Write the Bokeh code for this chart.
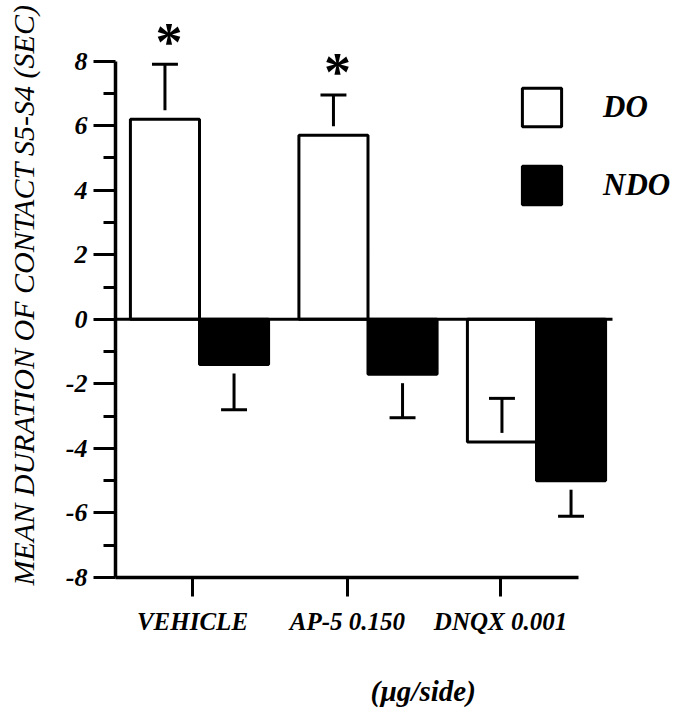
from bokeh.plotting import figure
from bokeh.models import Range1d, FixedTicker, Legend, LegendItem, Title
from bokeh.core.properties import value
from bokeh.embed import file_html
from bokeh.resources import INLINE

# ---- data ----
categories = ["VEHICLE", "AP-5 0.150", "DNQX 0.001"]
do_mean = [6.2, 5.7, -3.8]
do_sem = [1.7, 1.25, 1.35]
ndo_mean = [-1.4, -1.7, -5.0]
ndo_sem = [1.4, 1.35, 1.1]
do_significant = [True, True, False]
y_ticks = [-8, -6, -4, -2, 0, 2, 4, 6, 8]
y_minor = [-7, -5, -3, -1, 1, 3, 5, 7]

# ---- layout constants ----
FONT = "Liberation Serif"
half = 0.205
bw = 0.41
gap = 0.28
cap = 0.077
label_x = [0.9585, 1.8783, 2.7864]
X0, X1 = 0.5015, 3.819
ZERO_END = 3.451
AXIS_END = 3.249

group_x = [i + 1 for i in range(len(categories))]
do_x = [g - half for g in group_x]
ndo_x = [g + half for g in group_x]

p = figure(width=674, height=719, output_backend="svg", toolbar_location=None,
           x_range=Range1d(X0, X1), y_range=Range1d(-8, 9.505),
           min_border_left=115, min_border_right=0, min_border_top=12,
           min_border_bottom=142)
p.outline_line_color = None
p.xgrid.visible = False
p.ygrid.visible = False
p.background_fill_color = "white"

# bars
r_do = p.vbar(x=do_x, top=do_mean, bottom=0, width=bw, fill_color="white",
              line_color="black", line_width=3)
r_ndo = p.vbar(x=ndo_x, top=ndo_mean, bottom=0, width=bw, fill_color="black",
               line_color="black", line_width=3)

# zero line
p.segment(x0=[X0], y0=[0], x1=[ZERO_END], y1=[0], line_color="black", line_width=3)

# error bars (DO drawn upward, NDO drawn downward)
def err_segments(xs, means, sems, d):
    x0, y0, x1, y1 = [], [], [], []
    cx0, cx1, cy = [], [], []
    for x, m, s in zip(xs, means, sems):
        x0.append(x); x1.append(x)
        y0.append(m + d * gap); y1.append(m + d * s)
        cx0.append(x - cap); cx1.append(x + cap); cy.append(m + d * s)
    return x0, y0, x1, y1, cx0, cx1, cy

for xs, ms, ss, d in [(do_x, do_mean, do_sem, 1), (ndo_x, ndo_mean, ndo_sem, -1)]:
    x0, y0, x1, y1, cx0, cx1, cy = err_segments(xs, ms, ss, d)
    p.segment(x0=x0, y0=y0, x1=x1, y1=y1, line_color="black", line_width=3)
    p.segment(x0=cx0, y0=cy, x1=cx1, y1=cy, line_color="black", line_width=3)

# significance asterisks
ax, ay = [], []
for x, m, s, sig in zip(do_x, do_mean, do_sem, do_significant):
    if sig:
        ax.append(x + 0.024)
        ay.append(m + s + 0.7)
p.text(x=ax, y=ay, text=["*"] * len(ax), text_font=value(FONT),
       text_font_style="bold", text_font_size="54px", text_align="center",
       text_baseline="alphabetic", text_color="black")

# y axis
ya = p.yaxis[0]
ya.ticker = FixedTicker(ticks=y_ticks, minor_ticks=y_minor)
ya.major_label_overrides = {t: str(t) for t in y_ticks}
ya.bounds = (-8, 8)
ya.axis_line_width = 3.5
ya.major_tick_line_width = 3
ya.minor_tick_line_width = 3
ya.major_tick_out = 22
ya.major_tick_in = 0
ya.minor_tick_out = 12
ya.minor_tick_in = 0
ya.major_label_standoff = 6
ya.major_label_text_font = FONT
ya.major_label_text_font_style = "bold italic"
ya.major_label_text_font_size = "26px"
ya.major_label_text_color = "black"
ya.axis_label = "MEAN DURATION OF CONTACT S5-S4 (SEC)"
ya.axis_label_text_font = FONT
ya.axis_label_text_font_style = "italic"
ya.axis_label_text_font_size = "30px"
ya.axis_label_text_color = "black"
ya.axis_label_standoff = 23

# x axis
xa = p.xaxis[0]
xa.ticker = FixedTicker(ticks=label_x, minor_ticks=[])
xa.major_label_overrides = {t: c for t, c in zip(label_x, categories)}
xa.bounds = (X0, AXIS_END)
xa.axis_line_width = 3.5
xa.major_tick_line_width = 3
xa.major_tick_out = 19
xa.major_tick_in = 0
xa.minor_tick_line_color = None
xa.major_label_standoff = 11
xa.major_label_text_font = FONT
xa.major_label_text_font_style = "bold italic"
xa.major_label_text_font_size = "25px"
xa.major_label_text_color = "black"
# blank spacer between category labels and the unit note
xa.axis_label = " "
xa.axis_label_text_font_size = "25px"
xa.axis_label_standoff = 4

# unit note
p.add_layout(Title(text="(µg/side)", align="left", offset=255,
                   text_font=FONT, text_font_style="bold italic",
                   text_font_size="29px", text_color="black", standoff=0), "below")

# legend
legend = Legend(items=[LegendItem(label="DO", renderers=[r_do]),
                       LegendItem(label="NDO", renderers=[r_ndo])],
                location=(402, 368), orientation="vertical",
                glyph_width=49, glyph_height=48, spacing=30, label_standoff=37,
                padding=0, margin=0, border_line_color=None,
                background_fill_alpha=0,
                label_text_font=FONT, label_text_font_style="bold italic",
                label_text_font_size="31px", label_text_color="black")
p.add_layout(legend, "center")

open("out.html", "w").write(file_html(p, INLINE))
